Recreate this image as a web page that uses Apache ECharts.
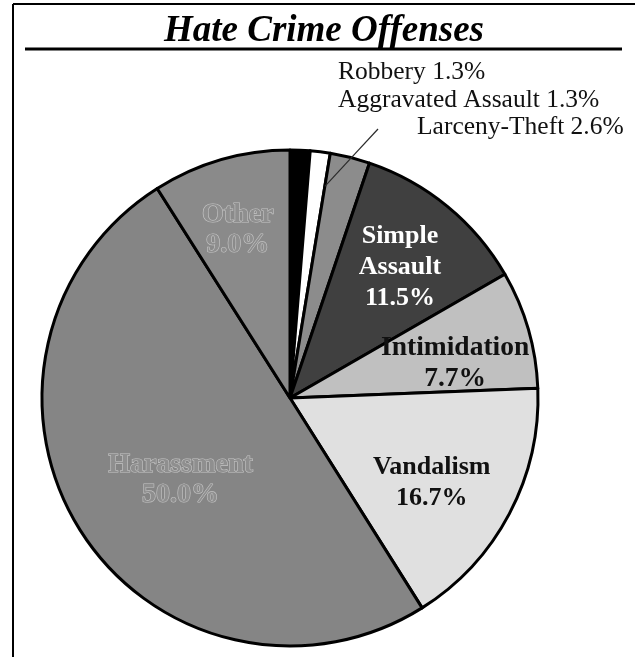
<!DOCTYPE html>
<html>
<head>
<meta charset="utf-8">
<script src="https://cdn.jsdelivr.net/npm/echarts@6/dist/echarts.min.js"></script>
<style>html,body{margin:0;padding:0;background:#fff}#c{width:635px;height:657px}</style>
</head>
<body>
<div id="c"></div>
<script>
const categories = ['Robbery', 'Aggravated Assault', 'Larceny-Theft', 'Simple Assault', 'Intimidation', 'Vandalism', 'Harassment', 'Other'];
const values = [1.3, 1.3, 2.6, 11.5, 7.7, 16.7, 50.0, 9.0];
const colors = ['#000000', '#ffffff', '#8c8c8c', '#404040', '#c0c0c0', '#e0e0e0', '#858585', '#8a8a8a'];

const CX = 290, CY = 398, R = 248;
const total = values.reduce((a, b) => a + b, 0);
const cum = [];
values.reduce((a, v, i) => { cum[i] = a; return a + v; }, 0);
function midAngle(i) { return (cum[i] + values[i] / 2) / total * 2 * Math.PI; }
function polar(ang, rad) { return [CX + rad * Math.sin(ang), CY - rad * Math.cos(ang)]; }

const serif = '"Liberation Serif", "Times New Roman", serif';
const boldLbl = { fontFamily: serif, fontWeight: 'bold', fontSize: 26, lineHeight: 31, align: 'center' };
const embossLbl = { fontFamily: serif, fontWeight: 'bold', fontSize: 28, lineHeight: 30, color: '#8f8f8f', textBorderColor: '#c6c6c6', textBorderWidth: 1.2, align: 'center' };
const outLbl = { fontFamily: serif, fontSize: 25.5, color: '#111' };

// inside label placement: [radius factor, angle offset in degrees]
const innerPos = {
  'Simple Assault': [0.69, 0.6],
  'Intimidation': [0.68, 4.4],
  'Vandalism': [0.665, 3.0],
  'Harassment': [0.55, -4.3],
  'Other': [0.712, -1.0]
};
// outside label anchors (left, middle)
const outPos = { 'Robbery': [338, 72], 'Aggravated Assault': [338, 100], 'Larceny-Theft': [417, 127] };

const data = categories.map((name, i) => {
  const d = { name, value: values[i], itemStyle: { color: colors[i] } };
  const pct = values[i].toFixed(1) + '%';
  if (outPos[name]) {
    d.label = Object.assign({ show: name !== 'Aggravated Assault', position: 'outside', formatter: name + ' ' + pct }, outLbl);
  } else if (name === 'Simple Assault') {
    d.label = Object.assign({ position: 'inside', formatter: 'Simple\nAssault\n' + pct, color: '#ffffff' }, boldLbl);
  } else if (name === 'Harassment' || name === 'Other') {
    d.label = Object.assign({ position: 'inside', formatter: name + '\n' + pct }, embossLbl);
  } else if (name === 'Intimidation') {
    d.label = Object.assign({ position: 'inside', formatter: name + '\n' + pct, color: '#111' }, boldLbl, { fontSize: 27.5 });
  } else {
    d.label = Object.assign({ position: 'inside', formatter: name + '\n' + pct, color: '#111' }, boldLbl);
  }
  return d;
});

// overlay data: only carries the leader-lined label (drawn above the sectors)
const overlayData = categories.map((name, i) => {
  const d = { name, value: values[i] };
  if (name === 'Aggravated Assault') {
    d.label = Object.assign({ show: true, position: 'outside', formatter: name + ' ' + values[i].toFixed(1) + '%' }, outLbl);
    d.labelLine = { show: true, lineStyle: { color: '#2a2a2a', width: 1.2 } };
  } else {
    d.label = { show: false };
    d.labelLine = { show: false };
  }
  return d;
});

function layoutFn(p) {
  const name = categories[p.dataIndex];
  if (outPos[name]) {
    const res = { x: outPos[name][0], y: outPos[name][1], align: 'left', verticalAlign: 'middle' };
    if (name === 'Aggravated Assault') {
      const li = categories.indexOf('Larceny-Theft');
      const end = polar(cum[li] / total * 2 * Math.PI, R * 0.865);
      const start = [outPos['Larceny-Theft'][0] - 39, outPos['Larceny-Theft'][1] + 2];
      res.labelLinePoints = [start, [(start[0] + end[0]) / 2, (start[1] + end[1]) / 2], end];
    }
    return res;
  }
  const cfg = innerPos[name];
  const pt = polar(midAngle(p.dataIndex) + cfg[1] * Math.PI / 180, R * cfg[0]);
  return { x: pt[0], y: pt[1], align: 'center', verticalAlign: 'middle' };
}

const chart = echarts.init(document.getElementById('c'), null, { renderer: 'canvas' });
chart.setOption({
  backgroundColor: '#ffffff',
  animation: false,
  title: {
    text: 'Hate Crime Offenses',
    left: 159,
    top: 8,
    textStyle: { fontFamily: serif, fontWeight: 'bold', fontStyle: 'italic', fontSize: 37, color: '#000' }
  },
  graphic: [
    { type: 'line', shape: { x1: 13, y1: 4, x2: 635, y2: 4 }, style: { stroke: '#000', lineWidth: 2 } },
    { type: 'line', shape: { x1: 13, y1: 4, x2: 13, y2: 657 }, style: { stroke: '#000', lineWidth: 2 } },
    { type: 'line', shape: { x1: 25, y1: 49, x2: 622, y2: 49 }, style: { stroke: '#000', lineWidth: 3 } }
  ],
  series: [{
    type: 'pie',
    z: 2,
    center: [CX, CY],
    radius: [0, R],
    startAngle: 90,
    clockwise: true,
    avoidLabelOverlap: false,
    itemStyle: { borderColor: '#000', borderWidth: 3 },
    emphasis: { disabled: true },
    labelLine: { show: false },
    data: data,
    labelLayout: layoutFn
  }, {
    type: 'pie',
    z: 5,
    silent: true,
    center: [CX, CY],
    radius: [0, R],
    startAngle: 90,
    clockwise: true,
    avoidLabelOverlap: false,
    itemStyle: { color: 'rgba(0,0,0,0)', borderWidth: 0 },
    emphasis: { disabled: true },
    data: overlayData,
    labelLayout: layoutFn
  }]
});
</script>
</body>
</html>
